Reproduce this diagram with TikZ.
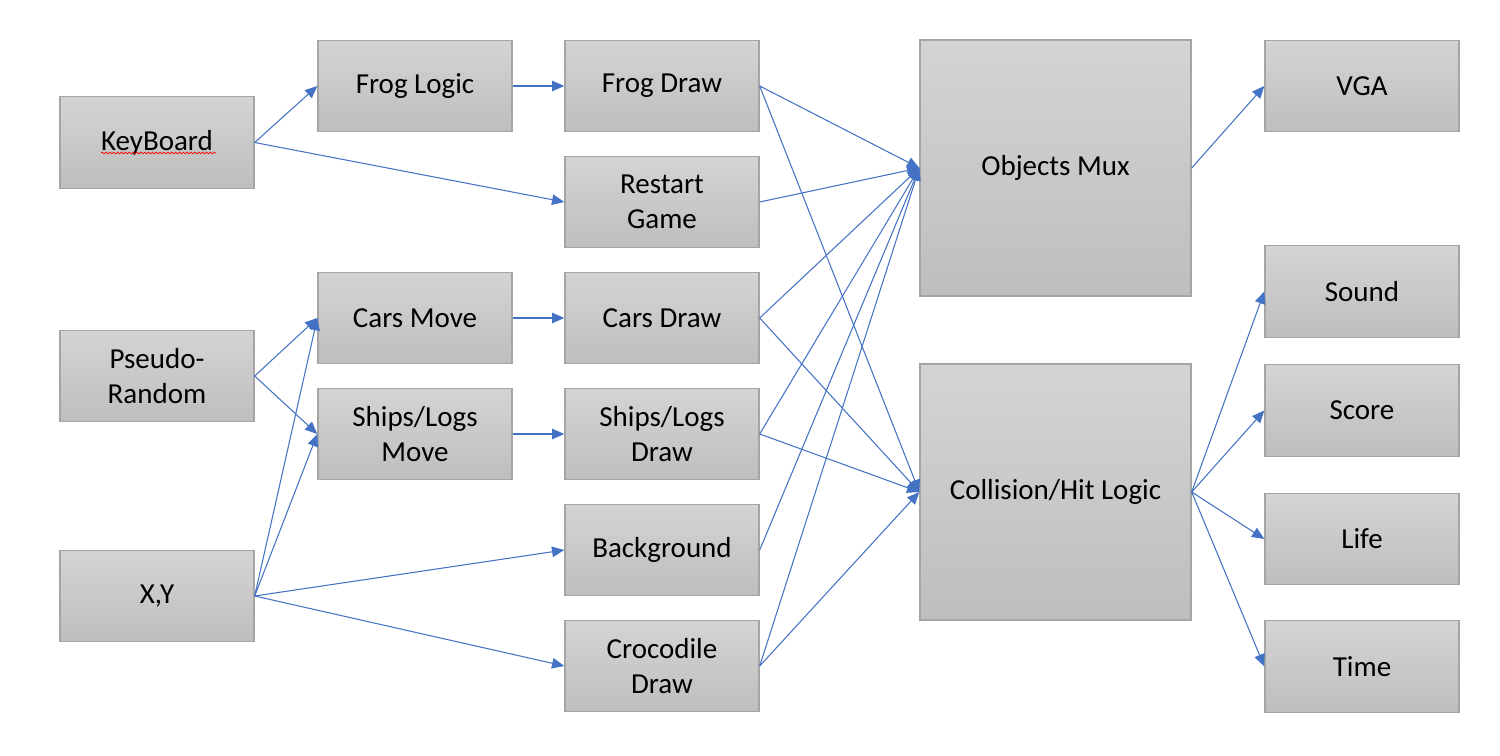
\documentclass[tikz,border=0pt]{standalone}
\usepackage{fontspec}
\setmainfont{Carlito}
\usetikzlibrary{arrows.meta,decorations.pathmorphing}
\definecolor{boxtop}{HTML}{D4D4D4}
\definecolor{boxbot}{HTML}{BEBEBE}
\definecolor{boxline}{HTML}{A5A5A5}
\definecolor{arrowblue}{HTML}{4472C4}
\begin{document}
\begin{tikzpicture}[x=0.02cm,y=-0.02cm,
  blk/.style={draw=boxline, line width=0.8pt, top color=boxtop, bottom color=boxbot,
    minimum width=3.88cm, minimum height=1.83cm, inner sep=0pt, align=center,
    font=\fontsize{16.5}{20}\selectfont},
  bigblk/.style={blk, minimum width=5.42cm, minimum height=5.12cm},
  conn/.style={draw=arrowblue, line width=0.6pt, -{Triangle[length=7pt,width=6pt]}}]
\useasboundingbox (0,0) rectangle (1500,756);
% column 1
\node[blk] (kb) at (157,142.5) {KeyBoard};
\node[blk] (pr) at (157,376) {Pseudo-\\Random};
\node[blk] (xy) at (157,596) {X,Y};
% column 2
\node[blk] (fl) at (415,86) {Frog Logic};
\node[blk] (cm) at (415,318) {Cars Move};
\node[blk] (sm) at (415,434) {Ships/Logs\\Move};
% column 3
\node[blk] (fd) at (662,86) {Frog Draw};
\node[blk] (rg) at (662,202) {Restart\\Game};
\node[blk] (cd) at (662,318) {Cars Draw};
\node[blk] (sd) at (662,434) {Ships/Logs\\Draw};
\node[blk] (bg) at (662,550) {Background};
\node[blk] (cr) at (662,666) {Crocodile\\Draw};
% column 4
\node[bigblk] (om) at (1055.5,168) {Objects Mux};
\node[bigblk] (ch) at (1055.5,492) {Collision/Hit Logic};
% column 5
\node[blk] (vga) at (1362,86) {VGA};
\node[blk] (snd) at (1362,291.5) {Sound};
\node[blk] (sc) at (1362,410.5) {Score};
\node[blk] (lf) at (1362,539) {Life};
\node[blk] (tm) at (1362,666.5) {Time};
% spell-check squiggle
\draw[red, line width=0.4pt, decorate, decoration={snake, amplitude=0.5pt, segment length=2.2pt}] (101,153) -- (216,153);
% connectors
\draw[conn] (kb.east) -- (fl.west);
\draw[conn] (kb.east) -- (rg.west);
\draw[conn] (pr.east) -- (cm.west);
\draw[conn] (pr.east) -- (sm.west);
\draw[conn] (xy.east) -- (cm.west);
\draw[conn] (xy.east) -- (sm.west);
\draw[conn] (xy.east) -- (bg.west);
\draw[conn] (xy.east) -- (cr.west);
\draw[conn] (fl.east) -- (fd.west);
\draw[conn] (cm.east) -- (cd.west);
\draw[conn] (sm.east) -- (sd.west);
\draw[conn] (fd.east) -- (om.west);
\draw[conn] (fd.east) -- (ch.west);
\draw[conn] (rg.east) -- (om.west);
\draw[conn] (cd.east) -- (om.west);
\draw[conn] (cd.east) -- (ch.west);
\draw[conn] (sd.east) -- (om.west);
\draw[conn] (sd.east) -- (ch.west);
\draw[conn] (bg.east) -- (om.west);
\draw[conn] (cr.east) -- (om.west);
\draw[conn] (cr.east) -- (ch.west);
\draw[conn] (om.east) -- (vga.west);
\draw[conn] (ch.east) -- (snd.west);
\draw[conn] (ch.east) -- (sc.west);
\draw[conn] (ch.east) -- (lf.west);
\draw[conn] (ch.east) -- (tm.west);
\end{tikzpicture}
\end{document}
